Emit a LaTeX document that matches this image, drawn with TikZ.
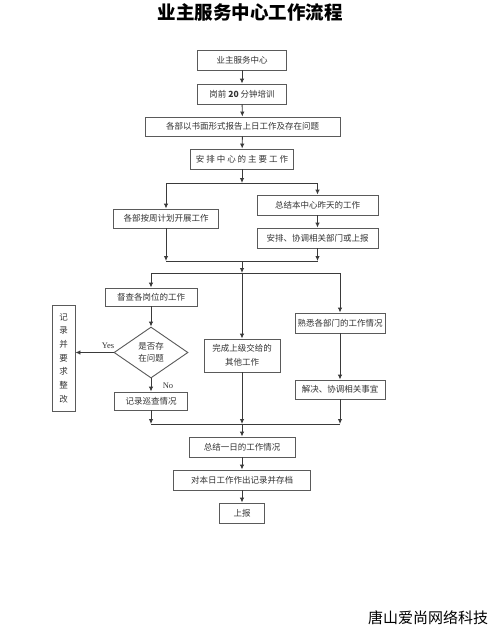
\documentclass[tikz,border=0pt]{standalone}
\usepackage{fontspec}
\setmainfont{Liberation Serif}
\newfontfamily\cjk{Noto Sans CJK SC}
\newfontfamily\cjkwide[LetterSpace=23]{Noto Sans CJK SC}
\usetikzlibrary{shapes.geometric,arrows.meta}
\definecolor{boxc}{HTML}{5A5A5A}
\definecolor{linec}{HTML}{3A3A3A}
\definecolor{txtc}{HTML}{333333}
\tikzset{
  box/.style={draw=boxc, line width=0.9pt, inner sep=0pt, minimum height=20pt,
    font=\cjk\fontsize{8.5}{12}\selectfont, text=txtc, align=center, fill=white},
  ln/.style={draw=linec, line width=0.9pt},
  arr/.style={ln, -{Latex[length=5pt,width=4.5pt]}},
  lab/.style={font=\fontsize{8.5}{10}\selectfont, text=txtc, inner sep=0pt}
}
\begin{document}
\begin{tikzpicture}[x=1pt,y=-1pt]
\useasboundingbox (0,0) rectangle (500,632);
\fill[white] (0,0) rectangle (500,632);

\node[font=\cjk\bfseries\fontsize{18.5}{20}\selectfont, text=black] (title) at (250,12) {业主服务中心工作流程};

\node[box,minimum width=89pt] (b1) at (242,60) {业主服务中心};
\node[box,minimum width=89pt] (b2) at (242,94) {岗前 \textbf{20} 分钟培训};
\node[box,minimum width=195pt,minimum height=19pt] (b3) at (242.5,126.5) {各部以书面形式报告上日工作及存在问题};
\node[box,minimum width=103pt,font=\cjkwide\fontsize{8.5}{12}\selectfont] (b4) at (242,159) {安排中心的主要工作};

\node[box,minimum width=105pt,minimum height=19pt] (b5) at (166,218.5) {各部按周计划开展工作};
\node[box,minimum width=121pt] (b6) at (317.5,205) {总结本中心昨天的工作};
\node[box,minimum width=121pt] (b7) at (317.5,238) {安排、协调相关部门或上报};

\node[box,minimum width=92pt,minimum height=18pt] (b8) at (151,297) {督查各岗位的工作};
\node[diamond, draw=boxc, line width=0.9pt, inner sep=0pt, minimum width=74pt, minimum height=51pt,
  font=\cjk\fontsize{8.5}{12}\selectfont, text=txtc, align=center] (d) at (151,352.5) {是否存\\在问题};
\node[box,minimum width=23pt,minimum height=106pt,font=\cjk\fontsize{8.5}{13.7}\selectfont] (b9) at (63.5,358) {记\\录\\并\\要\\求\\整\\改};
\node[box,minimum width=73pt,minimum height=18pt] (b10) at (151,401) {记录巡查情况};
\node[box,minimum width=76pt,minimum height=33pt,font=\cjk\fontsize{8.5}{14}\selectfont] (b11) at (242,355.5) {完成上级交给的\\其他工作};
\node[box,minimum width=90pt] (b12) at (340,323) {熟悉各部门的工作情况};
\node[box,minimum width=90pt,minimum height=19pt] (b13) at (340,389.5) {解决、协调相关事宜};

\node[box,minimum width=106pt] (b14) at (242,447) {总结一日的工作情况};
\node[box,minimum width=137pt] (b15) at (242,480) {对本日工作作出记录并存档};
\node[box,minimum width=45pt] (b16) at (242,513) {上报};

\node[font=\cjk\fontsize{15}{16}\selectfont, text=black] (foot) at (428,618) {唐山爱尚网络科技};

% connectors
\draw[arr] (b1) -- (b2);
\draw[arr] (b2) -- (b3);
\draw[arr] (b3) -- (b4);
\coordinate (s1) at (242,183);
\draw[arr] (b4.south) -- (s1);
\draw[arr] (s1) -| (b5.north);
\draw[arr] (s1) -| (b6.north);
\draw[arr] (b6) -- (b7);

\coordinate (j1) at (242,261);
\draw[ln] (b5.south |- j1) -- (b7.south |- j1);
\draw[arr] (b5.south) -- (b5.south |- j1);
\draw[arr] (b7.south) -- (b7.south |- j1);
\coordinate (s2) at (242,273);
\draw[arr] (j1) -- (s2);
\draw[arr] (s2) -| (b8.north);
\draw[arr] (s2) -| (b12.north);
\draw[arr] (s2) -- (b11.north);

\draw[arr] (b8) -- (d);
\draw[arr] (d.west) -- (d.west -| b9.east);
\node[lab] (yes) at (108,346) {Yes};
\draw[arr] (d.south) -- (b10.north);
\node[lab] (no) at (168,386) {No};
\draw[arr] (b12) -- (b13);

\coordinate (j2) at (242,424);
\draw[ln] (b10.south |- j2) -- (b13.south |- j2);
\draw[arr] (b10.south) -- (b10.south |- j2);
\draw[arr] (b11.south) -- (j2);
\draw[arr] (b13.south) -- (b13.south |- j2);
\draw[arr] (j2) -- (b14);
\draw[arr] (b14) -- (b15);
\draw[arr] (b15) -- (b16);
\end{tikzpicture}
\end{document}
